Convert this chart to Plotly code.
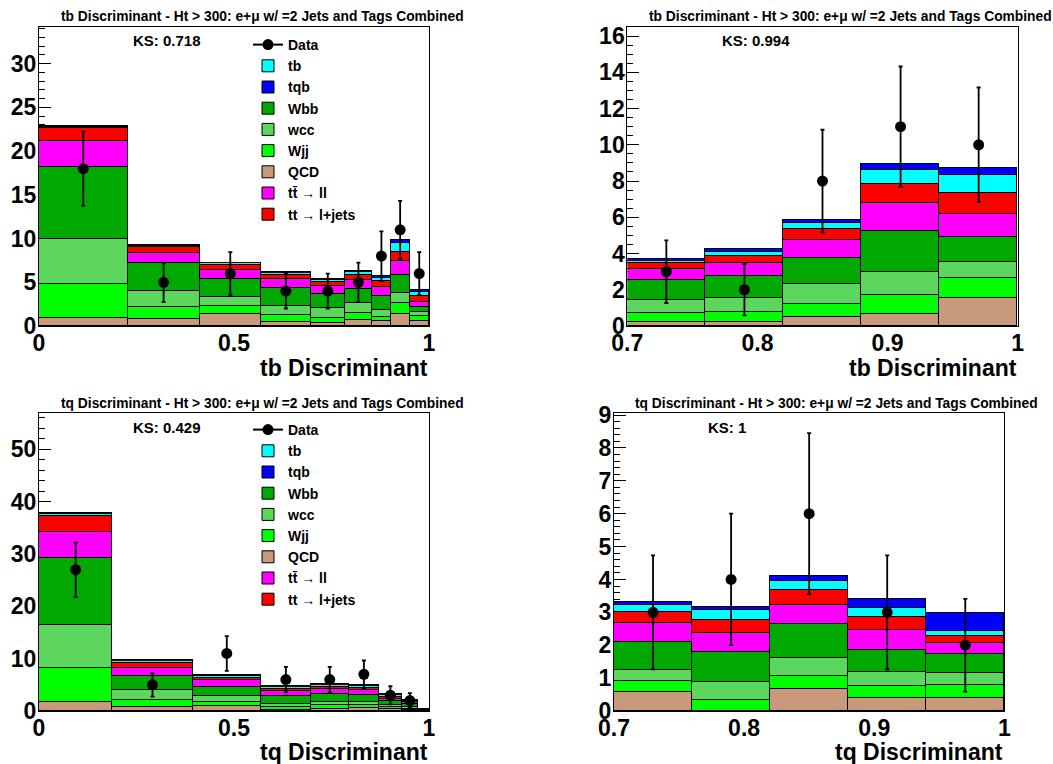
import plotly.graph_objects as go

W, H = 1053, 764
FONT = "Liberation Sans"

# ---------------- bin edges ----------------
tb_all_edges = [0, 0.227, 0.412, 0.569, 0.697, 0.784, 0.854, 0.902, 0.95, 1.0]
tb_hi_edges = [0.7, 0.76, 0.82, 0.88, 0.94, 1.0]
tq_all_edges = [0, 0.188, 0.394, 0.569, 0.697, 0.794, 0.872, 0.930, 0.972, 1.0]
tq_hi_edges = [0.7, 0.76, 0.82, 0.88, 0.94, 1.0]

# ---------------- tb discriminant, full range ----------------
tb_all_QCD = [0.88, 0.80, 1.37, 0.50, 0.30, 0.69, 0.61, 1.37, 0.60]
tb_all_Wjj = [3.89, 1.41, 0.92, 0.76, 0.58, 0.76, 0.46, 1.23, 0.55]
tb_all_wcc = [5.15, 1.79, 1.07, 1.03, 1.14, 1.15, 0.76, 1.22, 0.49]
tb_all_Wbb = [8.25, 3.18, 1.98, 2.02, 1.61, 1.60, 1.61, 2.02, 0.57]
tb_all_ll = [2.98, 1.14, 1.07, 1.03, 0.95, 1.07, 1.06, 1.60, 0.58]
tb_all_lj = [1.45, 0.76, 0.57, 0.50, 0.50, 0.57, 0.65, 1.07, 0.65]
tb_all_tb = [0.15, 0.12, 0.17, 0.19, 0.19, 0.30, 0.38, 0.96, 0.49]
tb_all_tqb = [0.10, 0.10, 0.10, 0.11, 0.11, 0.16, 0.20, 0.38, 0.19]
tb_all_data = [18, 5, 6, 4, 4, 5, 8, 11, 6]
tb_all_err = [4.24, 2.24, 2.45, 2.0, 2.0, 2.24, 2.83, 3.32, 2.45]

# ---------------- tb discriminant, 0.7 - 1 ----------------
tb_hi_QCD = [0.24, 0.24, 0.51, 0.64, 1.53]
tb_hi_Wjj = [0.46, 0.51, 0.70, 1.07, 1.10]
tb_hi_wcc = [0.73, 0.78, 1.09, 1.29, 0.92]
tb_hi_Wbb = [1.11, 1.23, 1.43, 2.24, 1.38]
tb_hi_ll = [0.59, 0.73, 1.01, 1.53, 1.25]
tb_hi_lj = [0.33, 0.39, 0.59, 1.05, 1.18]
tb_hi_tb = [0.13, 0.22, 0.33, 0.79, 0.97]
tb_hi_tqb = [0.11, 0.13, 0.19, 0.31, 0.41]
tb_hi_data = [3, 2, 8, 11, 10]
tb_hi_err = [1.73, 1.41, 2.83, 3.32, 3.16]

# ---------------- tq discriminant, full range ----------------
tq_all_QCD = [1.78, 0.83, 0.96, 0.19, 0.51, 0.64, 0.38, 0.32, 0.05]
tq_all_Wjj = [6.56, 1.40, 0.82, 0.64, 0.64, 0.63, 0.45, 0.19, 0.08]
tq_all_wcc = [8.09, 1.78, 1.09, 0.63, 0.63, 0.51, 0.32, 0.32, 0.08]
tq_all_Wbb = [12.93, 2.68, 1.78, 1.47, 1.47, 1.40, 0.76, 0.63, 0.10]
tq_all_ll = [4.91, 1.59, 1.27, 0.96, 0.95, 0.83, 0.51, 0.26, 0.04]
tq_all_lj = [2.99, 0.96, 0.51, 0.44, 0.45, 0.45, 0.32, 0.19, 0.04]
tq_all_tb = [0.51, 0.38, 0.32, 0.32, 0.32, 0.32, 0.32, 0.13, 0.02]
tq_all_tqb = [0.19, 0.13, 0.13, 0.25, 0.19, 0.25, 0.19, 0.13, 0.02]
tq_all_data = [27, 5, 11, 6, 6, 7, 3, 2, None]
tq_all_err = [5.20, 2.24, 3.32, 2.45, 2.45, 2.65, 1.73, 1.41, None]

# ---------------- tq discriminant, 0.7 - 1 ----------------
tq_hi_QCD = [0.59, 0.00, 0.69, 0.39, 0.39]
tq_hi_Wjj = [0.32, 0.35, 0.38, 0.37, 0.40]
tq_hi_wcc = [0.34, 0.54, 0.55, 0.44, 0.36]
tq_hi_Wbb = [0.86, 0.91, 1.02, 0.67, 0.60]
tq_hi_ll = [0.58, 0.58, 0.60, 0.59, 0.33]
tq_hi_lj = [0.33, 0.41, 0.44, 0.41, 0.21]
tq_hi_tb = [0.20, 0.28, 0.27, 0.27, 0.15]
tq_hi_tqb = [0.10, 0.10, 0.17, 0.26, 0.56]
tq_hi_data = [3, 4, 6, 3, 2]
tq_hi_err = [1.73, 2.0, 2.45, 1.73, 1.41]

# ---------------- processes (stack order bottom -> top) ----------------
proc_names = ["QCD", "Wjj", "wcc", "Wbb", "tt\u0304 \u2192 ll", "tt \u2192 l+jets", "tb", "tqb"]
proc_colors = ["#C8997B", "#00FF00", "#5CD65C", "#00A800", "#FF00FF", "#FF0000", "#00FFFF", "#0000FF"]
proc_rank = [7, 6, 5, 4, 8, 9, 2, 3]

title_tb = "tb Discriminant - Ht > 300: e+\u03bc w/ =2 Jets and Tags Combined"
title_tq = "tq Discriminant - Ht > 300: e+\u03bc w/ =2 Jets and Tags Combined"


def px(x):
    return x / W


def py(y):
    return 1 - y / H


panels = [
    dict(edges=tb_all_edges,
         comps=[tb_all_QCD, tb_all_Wjj, tb_all_wcc, tb_all_Wbb, tb_all_ll, tb_all_lj, tb_all_tb, tb_all_tqb],
         data=tb_all_data, err=tb_all_err, xr=[0, 1], yr=[0, 34.2], ydt=5, ymin=1,
         xtv=[0, 0.5, 1], xtt=["0", "0.5", "1"], xmin=0.1,
         dom_x=[px(39), px(429)], dom_y=[py(326), py(27)], legend="legend",
         title=title_tb, tx=262, ty=17, ks="KS: 0.718", kx=131, ky=41,
         xlabel="tb Discriminant", lx=430, ly=368),
    dict(edges=tb_hi_edges,
         comps=[tb_hi_QCD, tb_hi_Wjj, tb_hi_wcc, tb_hi_Wbb, tb_hi_ll, tb_hi_lj, tb_hi_tb, tb_hi_tqb],
         data=tb_hi_data, err=tb_hi_err, xr=[0.7, 1], yr=[0, 16.5], ydt=2, ymin=0.5,
         xtv=[0.7, 0.8, 0.9, 1.0], xtt=["0.7", "0.8", "0.9", "1"], xmin=0.02,
         dom_x=[px(627.3), px(1017.7)], dom_y=[py(326), py(27)], legend=None,
         title=title_tb, tx=850, ty=17, ks="KS: 0.994", kx=720, ky=41,
         xlabel="tb Discriminant", lx=1019, ly=368),
    dict(edges=tq_all_edges,
         comps=[tq_all_QCD, tq_all_Wjj, tq_all_wcc, tq_all_Wbb, tq_all_ll, tq_all_lj, tq_all_tb, tq_all_tqb],
         data=tq_all_data, err=tq_all_err, xr=[0, 1], yr=[0, 57], ydt=10, ymin=2,
         xtv=[0, 0.5, 1], xtt=["0", "0.5", "1"], xmin=0.1,
         dom_x=[px(39), px(429)], dom_y=[py(711), py(412.7)], legend="legend2",
         title=title_tq, tx=262, ty=404, ks="KS: 0.429", kx=131, ky=427,
         xlabel="tq Discriminant", lx=430, ly=752),
    dict(edges=tq_hi_edges,
         comps=[tq_hi_QCD, tq_hi_Wjj, tq_hi_wcc, tq_hi_Wbb, tq_hi_ll, tq_hi_lj, tq_hi_tb, tq_hi_tqb],
         data=tq_hi_data, err=tq_hi_err, xr=[0.7, 1], yr=[0, 9.07], ydt=1, ymin=0.2,
         xtv=[0.7, 0.8, 0.9, 1.0], xtt=["0.7", "0.8", "0.9", "1"], xmin=0.02,
         dom_x=[px(614), px(1004.3)], dom_y=[py(711), py(412.7)], legend=None,
         title=title_tq, tx=836, ty=404, ks="KS: 1", kx=706, ky=427,
         xlabel="tq Discriminant", lx=1005, ly=752),
]

fig = go.Figure()
annotations = []
layout = dict(
    width=W, height=H, margin=dict(l=0, r=0, t=0, b=0, autoexpand=False),
    plot_bgcolor="white", paper_bgcolor="white",
    barmode="stack", bargap=0, showlegend=True,
    font=dict(family=FONT, color="black"),
)

tick_font = dict(family=FONT, size=23, color="black", weight="bold")

for i, p in enumerate(panels):
    n = "" if i == 0 else str(i + 1)
    xa, ya = "x" + n, "y" + n
    e = p["edges"]
    centers = [(e[k] + e[k + 1]) / 2 for k in range(len(e) - 1)]
    widths = [e[k + 1] - e[k] for k in range(len(e) - 1)]
    for j, vals in enumerate(p["comps"]):
        if p["legend"]:
            kw = dict(legend=p["legend"], showlegend=True, legendrank=proc_rank[j])
        else:
            kw = dict(showlegend=False)
        fig.add_trace(go.Bar(
            x=centers, y=vals, width=widths, name=proc_names[j],
            marker=dict(color=proc_colors[j], line=dict(color="black", width=1)),
            xaxis=xa, yaxis=ya, **kw))
    fig.add_trace(go.Scatter(
        x=centers, y=p["data"], mode="markers", name="Data", showlegend=False,
        marker=dict(color="black", size=11),
        error_y=dict(type="data", array=p["err"], visible=True, color="black",
                     thickness=1.8, width=2),
        xaxis=xa, yaxis=ya))
    if p["legend"]:
        fig.add_trace(go.Scatter(
            x=[None], y=[None], mode="lines+markers", name="Data",
            line=dict(color="black", width=2), marker=dict(color="black", size=11),
            legend=p["legend"], legendrank=1, showlegend=True,
            xaxis=xa, yaxis=ya))

    layout["xaxis" + n] = dict(
        domain=p["dom_x"], range=p["xr"], anchor=ya, automargin=False,
        tickvals=p["xtv"], ticktext=p["xtt"], ticks="inside", ticklen=9,
        tickcolor="black", minor=dict(ticks="inside", ticklen=5, dtick=p["xmin"], tickcolor="black"),
        showline=True, mirror=True, linecolor="black", linewidth=1,
        showgrid=False, zeroline=False, tickfont=tick_font, layer="below traces",
        ticklabelstandoff=-4)
    layout["yaxis" + n] = dict(
        domain=p["dom_y"], range=p["yr"], anchor=xa, automargin=False,
        dtick=p["ydt"], tick0=0, ticks="inside", ticklen=12, tickcolor="black",
        minor=dict(ticks="inside", ticklen=6, dtick=p["ymin"], tickcolor="black"),
        showline=True, mirror=True, linecolor="black", linewidth=1,
        showgrid=False, zeroline=False, tickfont=tick_font, layer="below traces",
        ticklabelstandoff=-3)

    annotations.append(dict(
        text=p["title"], x=px(p["tx"]), y=py(p["ty"]), xref="paper", yref="paper",
        xanchor="center", yanchor="middle", showarrow=False,
        font=dict(family=FONT, size=13.8, color="black", weight="bold")))
    annotations.append(dict(
        text=p["ks"], x=px(p["kx"]), y=py(p["ky"]), xref="paper", yref="paper",
        xanchor="left", yanchor="middle", showarrow=False,
        font=dict(family=FONT, size=15, color="black", weight="bold")))
    annotations.append(dict(
        text=p["xlabel"], x=px(p["lx"]), y=py(p["ly"]), xref="paper", yref="paper",
        xanchor="right", yanchor="middle", showarrow=False,
        font=dict(family=FONT, size=23, color="black", weight="bold")))

legend_style = dict(
    bgcolor="rgba(0,0,0,0)", borderwidth=0, traceorder="normal",
    font=dict(family=FONT, size=14, color="black", weight="bold"),
    xanchor="left", yanchor="top", itemclick=False, itemdoubleclick=False)
layout["legend"] = dict(x=px(248), y=py(29), **legend_style)
layout["legend2"] = dict(x=px(248), y=py(414), **legend_style)
layout["annotations"] = annotations

fig.update_layout(**layout)
fig.write_html(
    "out.html",
    config={"displayModeBar": False},
    post_script="document.body.style.margin='0px';document.body.style.padding='0px';"
                "document.documentElement.style.overflow='hidden';",
)
